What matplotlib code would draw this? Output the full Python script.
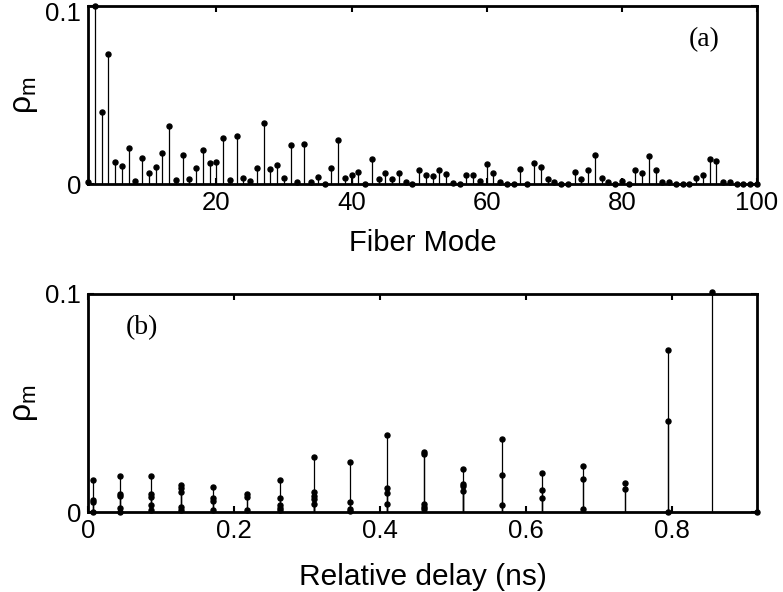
import numpy as np
import matplotlib
matplotlib.use("Agg")
import matplotlib.pyplot as plt
from matplotlib.transforms import ScaledTranslation

plt.rcParams['font.family'] = ['Liberation Sans', 'DejaVu Sans']
plt.rcParams['mathtext.fontset'] = 'custom'
plt.rcParams['mathtext.rm'] = 'Liberation Sans'
plt.rcParams['mathtext.it'] = 'Liberation Sans'

# (a) power fraction per fiber mode, modes 1..100
modes = np.arange(1, 101)
rho_mode = [
    0.001, 0.100, 0.0406, 0.073, 0.0127, 0.0103, 0.0202, 0.0017, 0.0148, 0.0063,
    0.0099, 0.0174, 0.0328, 0.0022, 0.0166, 0.0030, 0.0092, 0.0191, 0.0118, 0.0127,
    0.0257, 0.0022, 0.0271, 0.0037, 0.0015, 0.0088, 0.0343, 0.0084, 0.0107, 0.0037,
    0.0221, 0.0013, 0.0225, 0.0010, 0.0041, 0.0003, 0.0088, 0.0249, 0.0034, 0.0054,
    0.0070, 0.0000, 0.0140, 0.0026, 0.0063, 0.0030, 0.0063, 0.0013, 0.0000, 0.0077,
    0.0052, 0.0043, 0.0077, 0.0056, 0.0009, 0.0000, 0.0050, 0.0050, 0.0019, 0.0112,
    0.0062, 0.0013, 0.0000, 0.0000, 0.0084, 0.0003, 0.0120, 0.0099, 0.0028, 0.0013,
    0.0000, 0.0000, 0.0069, 0.0030, 0.0080, 0.0163, 0.0037, 0.0013, 0.0000, 0.0020,
    0.0000, 0.0077, 0.0062, 0.0159, 0.0077, 0.0013, 0.0013, 0.0000, 0.0000, 0.0000,
    0.0037, 0.0052, 0.0142, 0.0129, 0.0013, 0.0013, 0.0003, 0.0000, 0.0000, 0.0000,
]

# (b) same power grouped by relative delay (ns)
delay = [
    0.007, 0.007, 0.007, 0.007,
    0.0436, 0.0436, 0.0436, 0.0436, 0.0436,
    0.0859, 0.0859, 0.0859, 0.0859, 0.0859,
    0.128, 0.128, 0.128, 0.128, 0.128,
    0.171, 0.171, 0.171, 0.171,
    0.218, 0.218, 0.218,
    0.263, 0.263, 0.263, 0.263, 0.263,
    0.310, 0.310, 0.310, 0.310, 0.310,
    0.359, 0.359, 0.359, 0.359,
    0.410, 0.410, 0.410, 0.410,
    0.460, 0.460, 0.460, 0.460, 0.460,
    0.514, 0.514, 0.514, 0.514,
    0.567, 0.567, 0.567,
    0.6217, 0.6217, 0.6217,
    0.6786, 0.6786, 0.6786,
    0.736, 0.736,
    0.795, 0.795, 0.795,
    0.8555,
    0.9165,
]
rho_delay = [
    0.0148, 0.0056, 0.0045, 0.0,
    0.0168, 0.0083, 0.0073, 0.0020, 0.0,
    0.0168, 0.0085, 0.0072, 0.0035, 0.0010,
    0.0125, 0.0110, 0.0095, 0.0025, 0.0010,
    0.0117, 0.0067, 0.0053, 0.0010,
    0.0084, 0.0072, 0.0010,
    0.0147, 0.0067, 0.0035, 0.0020, 0.0010,
    0.0255, 0.0092, 0.0077, 0.0062, 0.0037,
    0.0231, 0.0046, 0.0013, 0.0007,
    0.0353, 0.0110, 0.0090, 0.0038,
    0.0278, 0.0267, 0.0038, 0.0026, 0.0013,
    0.0199, 0.0131, 0.0119, 0.0096,
    0.0336, 0.0171, 0.0034,
    0.0182, 0.0102, 0.0067,
    0.0212, 0.0154, 0.0017,
    0.0133, 0.0107,
    0.0743, 0.0420, 0.0,
    0.1010,
    0.0,
]


def stem_plot(ax, x, y):
    ax.vlines(x, 0, y, colors='k', linewidth=0.9, zorder=2)
    ax.plot(x, y, 'o', color='k', markersize=3.6, zorder=3, clip_on=False)


def style_axis(ax):
    for s in ax.spines.values():
        s.set_linewidth(2.0)
    ax.tick_params(direction='in', top=True, right=True, length=4, width=1.5,
                   labelsize=18.5, pad=5)
    ax.set_ylim(0, 0.1)
    ax.set_yticks([0, 0.1])
    ax.set_yticklabels(['0', '0.1'])
    ax.set_ylabel(r'$\rho_\mathrm{m}$', fontsize=23, labelpad=4)


fig = plt.figure(figsize=(7.83, 5.92), dpi=100)

ax1 = fig.add_axes([0.1124, 0.689, 0.8544, 0.3005])
stem_plot(ax1, modes, rho_mode)
style_axis(ax1)
ax1.set_xlim(1, 100)
ax1.set_xticks([20, 40, 60, 80, 100])
ax1.set_xlabel('Fiber Mode', fontsize=21, labelpad=10)
ax1.text(0.921, 0.81, '(a)', transform=ax1.transAxes, fontsize=20,
         family='Liberation Serif', ha='center', va='center')
# keep the top "0.1" inside the picture
top_lbl = ax1.get_yticklabels()[-1]
top_lbl.set_transform(top_lbl.get_transform() + ScaledTranslation(0, -4 / 72, fig.dpi_scale_trans))

ax2 = fig.add_axes([0.1124, 0.1346, 0.8544, 0.3688])
stem_plot(ax2, delay, rho_delay)
style_axis(ax2)
ax2.set_xlim(0.0035, 0.9165)
ax2.set_xticks([0, 0.2, 0.4, 0.6, 0.8])
ax2.set_xticklabels(['0', '0.2', '0.4', '0.6', '0.8'])
ax2.set_xlabel('Relative delay (ns)', fontsize=21.5, labelpad=14)
ax2.text(0.081, 0.845, '(b)', transform=ax2.transAxes, fontsize=20,
         family='Liberation Serif', ha='center', va='center')

fig.savefig('out.png', dpi=100)
